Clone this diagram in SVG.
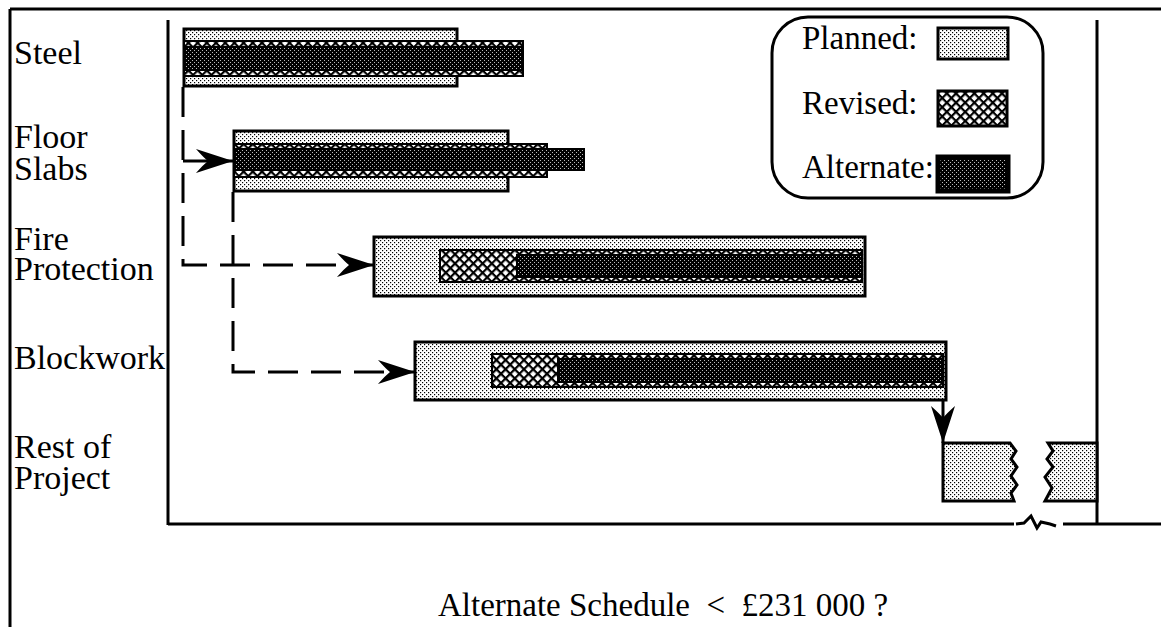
<svg xmlns="http://www.w3.org/2000/svg" width="1161" height="627" viewBox="0 0 1161 627">
<style>
text{font-family:"Liberation Serif","Times New Roman",serif;font-size:33px;fill:#000}
.lbl{font-size:34px}
.frame{fill:none;stroke:#000;stroke-width:3}
.planned{fill:url(#pPlanned);stroke:#000;stroke-width:3}
.revised{fill:url(#pRevised);stroke:#000;stroke-width:2}
.alt{fill:url(#pAlt);stroke:#000;stroke-width:2}
.dash{fill:none;stroke:#000;stroke-width:3;stroke-dasharray:30 13;marker-end:url(#arr)}
.solid{fill:none;stroke:#000;stroke-width:3;marker-end:url(#arr)}
</style>
<defs>
<pattern id="pPlanned" width="4" height="4" patternUnits="userSpaceOnUse">
<rect width="4" height="4" fill="#fff"/><rect width="1.2" height="1.2" fill="#000"/><rect x="2" y="2" width="1.2" height="1.2" fill="#000"/>
</pattern>
<pattern id="pRevised" width="6.5" height="6.5" patternUnits="userSpaceOnUse" patternTransform="rotate(45)">
<rect width="6.5" height="6.5" fill="#fff"/><rect width="6.5" height="2.2" fill="#000"/><rect width="2.2" height="6.5" fill="#000"/>
</pattern>
<pattern id="pAlt" width="4" height="4" patternUnits="userSpaceOnUse">
<rect width="4" height="4" fill="#000"/><rect width="1" height="1" fill="#bbb"/><rect x="2" y="2" width="1" height="1" fill="#bbb"/>
</pattern>
<marker id="arr" markerUnits="userSpaceOnUse" markerWidth="40" markerHeight="30" viewBox="-38 -14 40 28" refX="0" refY="0" orient="auto">
<path d="M0,0 L-37,-12 Q-29,-3 -25,0 Q-29,3 -37,12 Z" fill="#000"/>
</marker>
</defs>

<g id="frame">
<path class="frame" d="M10,9 H1161 M10,9 V627"/>
<path class="frame" d="M168,20 V525 M1097,20 V524"/>
<path class="frame" d="M168,524 H1014 M1063,524 H1161"/>
<polyline points="1016,524 1024,523 1031,516 1037,528 1041,522 1050,524 1056,526" fill="none" stroke="#000" stroke-width="3"/>
</g>

<g id="labels">
<text class="lbl" x="14" y="64">Steel</text>
<text class="lbl" x="14" y="148">Floor</text>
<text class="lbl" x="14" y="180">Slabs</text>
<text class="lbl" x="14" y="250">Fire</text>
<text class="lbl" x="14" y="280">Protection</text>
<text class="lbl" x="14" y="369">Blockwork</text>
<text class="lbl" x="14" y="458">Rest of</text>
<text class="lbl" x="14" y="489">Project</text>
</g>

<g id="steel">
<rect class="planned" x="184" y="29" width="273" height="57"/>
<rect class="revised" x="184" y="41" width="339" height="35"/>
<rect class="alt" x="184" y="47" width="339" height="23"/>
</g>

<g id="floor-slabs">
<rect class="planned" x="234" y="131" width="274" height="60"/>
<rect class="revised" x="234" y="144" width="313" height="33"/>
<rect class="alt" x="234" y="149" width="350" height="21"/>
</g>

<g id="fire-protection">
<rect class="planned" x="374" y="237" width="491" height="59"/>
<rect class="revised" x="440" y="250" width="422" height="32"/>
<rect class="alt" x="517" y="255" width="345" height="22"/>
</g>

<g id="blockwork">
<rect class="planned" x="415" y="342" width="531" height="58"/>
<rect class="revised" x="492" y="354" width="451" height="33"/>
<rect class="alt" x="558" y="359" width="385" height="23"/>
</g>

<g id="rest-of-project">
<path class="planned" d="M943,443 H1010 L1016,451 L1011,459 L1017,467 L1011,476 L1017,485 L1011,493 L1014,501 H943 Z"/>
<path class="planned" d="M1048,443 H1097 V501 H1045 L1052,488 L1045,477 L1053,467 L1047,459 L1053,451 Z"/>
</g>

<g id="legend">
<rect x="772" y="17" width="271" height="181" rx="36" ry="36" fill="none" stroke="#000" stroke-width="3"/>
<text x="802" y="49">Planned:</text>
<rect class="planned" x="938" y="28" width="70" height="31"/>
<text x="802" y="114">Revised:</text>
<rect x="938" y="91" width="69" height="35" fill="url(#pRevised)" stroke="#000" stroke-width="3"/>
<text x="802" y="178">Alternate:</text>
<rect x="938" y="157" width="70" height="34" fill="url(#pAlt)" stroke="#000" stroke-width="5"/>
</g>

<g id="connectors">
<path class="dash" d="M183,87 V265 H374"/>
<path class="solid" d="M183,161 H233"/>
<path class="dash" d="M233,192 V372 H415"/>
<path class="solid" d="M943,401 V443"/>
</g>

<text x="438" y="616" style="white-space:pre">Alternate Schedule  &lt;  £231 000 ?</text>
</svg>
